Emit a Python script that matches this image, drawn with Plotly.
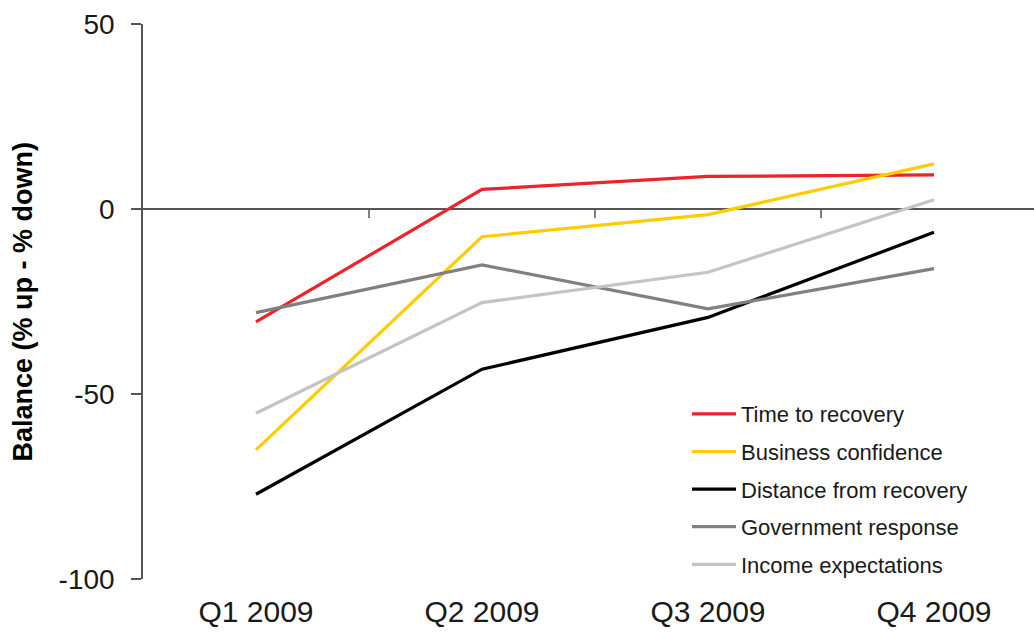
import plotly.graph_objects as go

# Quarterly survey balances (% up - % down)
quarters = ["Q1 2009", "Q2 2009", "Q3 2009", "Q4 2009"]

time_to_recovery = [-30.5, 5.3, 8.8, 9.2]
business_confidence = [-65.1, -7.5, -1.5, 12.2]
distance_from_recovery = [-77.1, -43.3, -29.3, -6.3]
government_response = [-28.0, -15.1, -27.0, -16.1]
income_expectations = [-55.2, -25.3, -17.1, 2.5]

y_ticks = [50, 0, -50, -100]

series = [
    ("Time to recovery", time_to_recovery, "#ED2329"),
    ("Business confidence", business_confidence, "#FFCC00"),
    ("Distance from recovery", distance_from_recovery, "#000000"),
    ("Government response", government_response, "#808080"),
    ("Income expectations", income_expectations, "#C4C4C4"),
]

FONT = "Liberation Sans, Arial, sans-serif"
AXIS_COLOR = "#555555"
TEXT_COLOR = "#1a1a1a"

fig = go.Figure()
for name, values, color in series:
    fig.add_trace(go.Scatter(
        x=list(range(len(quarters))),
        y=values,
        name=name,
        mode="lines",
        line=dict(color=color, width=3.2),
        legendgroup=name,
    ))

# Small downward ticks on the zero line between quarters
for i in range(len(quarters) - 1):
    fig.add_shape(
        type="line", xref="x", yref="y",
        x0=i + 0.5, x1=i + 0.5,
        ysizemode="pixel", yanchor=0, y0=0, y1=-9,
        line=dict(color=AXIS_COLOR, width=1.5),
    )

plot_left, plot_width, cat_px = 143, 891, 226

fig.update_layout(
    width=1034, height=635,
    margin=dict(l=plot_left, r=0, t=24, b=56),
    paper_bgcolor="white", plot_bgcolor="white",
    font=dict(family=FONT, color=TEXT_COLOR),
    showlegend=True,
    legend=dict(
        x=(687 - plot_left) / plot_width, xanchor="left",
        y=0.335, yanchor="top",
        font=dict(size=22, family=FONT, color=TEXT_COLOR),
        itemwidth=44,
        tracegroupgap=6,
        bgcolor="rgba(0,0,0,0)",
    ),
    xaxis=dict(
        range=[-0.5, -0.5 + plot_width / cat_px],
        tickvals=list(range(len(quarters))),
        ticktext=quarters,
        showline=False, showgrid=False, zeroline=False,
        ticks="", ticklabelstandoff=12,
        tickfont=dict(size=30, family=FONT, color=TEXT_COLOR),
    ),
    yaxis=dict(
        range=[-100, 50],
        tickvals=y_ticks,
        ticktext=[str(v) for v in y_ticks],
        showline=True, linecolor=AXIS_COLOR, linewidth=1.5,
        showgrid=False,
        zeroline=True, zerolinecolor=AXIS_COLOR, zerolinewidth=1.5,
        ticks="outside", ticklen=10, tickcolor=AXIS_COLOR, tickwidth=1.5,
        ticklabelstandoff=11,
        tickfont=dict(size=28, family=FONT, color=TEXT_COLOR),
    ),
    annotations=[dict(
        text="<b>Balance (% up - % down)</b>",
        xref="paper", yref="paper", x=0, y=0.5,
        xanchor="center", yanchor="middle",
        xshift=22 - plot_left, textangle=-90, showarrow=False,
        font=dict(size=27, family=FONT, color="#000000"),
    )],
)

fig.write_html("out.html")
